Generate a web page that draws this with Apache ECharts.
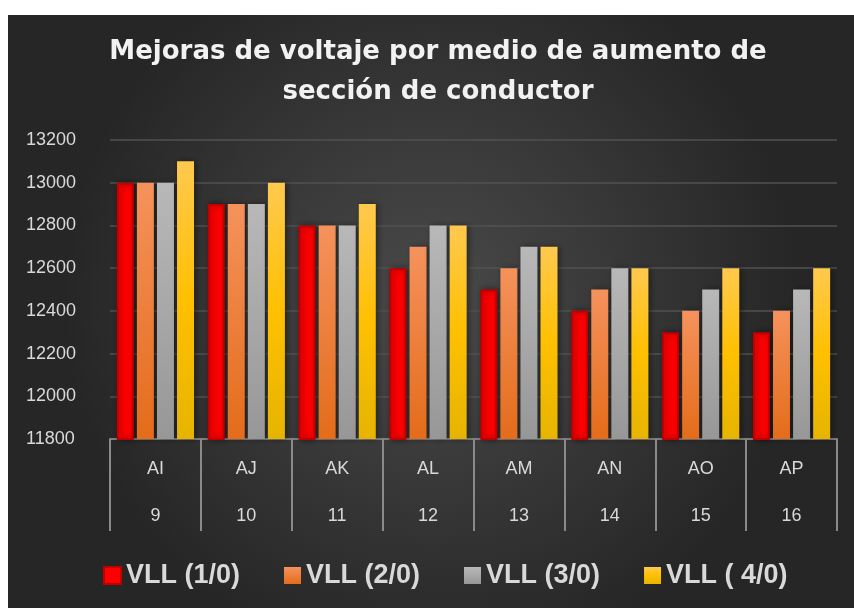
<!DOCTYPE html>
<html><head><meta charset="utf-8">
<script src="https://cdn.jsdelivr.net/npm/echarts@6/dist/echarts.min.js"></script>
<style>html,body{margin:0;padding:0;background:#fff}#c{width:854px;height:608px}</style>
</head><body><div id="c"></div>
<script>
var categories = ['AI','AJ','AK','AL','AM','AN','AO','AP'];
var subLabels = ['9','10','11','12','13','14','15','16'];
var seriesNames = ['VLL (1/0)','VLL (2/0)','VLL (3/0)','VLL ( 4/0)'];
var vll10 = [13000,12900,12800,12600,12500,12400,12300,12300];
var vll20 = [13000,12900,12800,12700,12600,12500,12400,12400];
var vll30 = [13000,12900,12800,12800,12700,12600,12500,12500];
var vll40 = [13100,13000,12900,12800,12700,12600,12600,12600];
var yTicks = [11800,12000,12200,12400,12600,12800,13000,13200];
var titleText = 'Mejoras de voltaje por medio de aumento de\nsección de conductor';

function lg(top, mid, bot){
  var stops = mid ? [{offset:0,color:top},{offset:0.5,color:mid},{offset:1,color:bot}]
                  : [{offset:0,color:top},{offset:1,color:bot}];
  return new echarts.graphic.LinearGradient(0,0,0,1,stops);
}
var styles = [
  {color:'#ff0000', borderColor:'#c00000', borderWidth:2},
  {color:lg('#f5925c',null,'#e46c1a')},
  {color:lg('#b8b8b8',null,'#979797')},
  {color:lg('#ffc94f','#ffc000','#e6b400')}
];
var datas = [vll10,vll20,vll30,vll40];
var chart = echarts.init(document.getElementById('c'));
var series = datas.map(function(d,i){
  var st = Object.assign({shadowBlur:6, shadowColor:'rgba(0,0,0,0.45)', shadowOffsetX:2, shadowOffsetY:0}, styles[i]);
  return {name:seriesNames[i], type:'bar', data:d, barWidth:17, barGap:'18%', itemStyle:st};
});
chart.setOption({
  animation:false,
  backgroundColor:'#ffffff',
  graphic:[{type:'rect', left:8, top:15, z:-10, silent:true,
    shape:{width:846, height:593},
    style:{fill:new echarts.graphic.RadialGradient(0.5,0.48,0.62,[{offset:0,color:'#4a4a4a'},{offset:1,color:'#262626'}])}},
    {type:'text', x:438, y:32, z:10, silent:true,
     style:{text:titleText, fill:'#f2f2f2', font:'bold 26px "DejaVu Sans"', lineHeight:40, align:'center', textAlign:'center', verticalAlign:'top'}}],
  legend:{bottom:14, left:98, itemWidth:17, itemHeight:17, itemGap:44, icon:'rect',
    textStyle:{color:'#d9d9d9', fontFamily:'Liberation Sans', fontWeight:'bold', fontSize:27}},
  grid:{left:110, right:17, top:140, bottom:169},
  xAxis:{type:'category', data:categories,
    axisLine:{lineStyle:{color:'#7f7f7f', width:2}},
    axisTick:{show:true, interval:0, length:92, lineStyle:{color:'#8a8a8a', width:2}},
    axisLabel:{interval:0, margin:7, color:'#d9d9d9', fontFamily:'Liberation Sans', fontSize:18, lineHeight:47,
      formatter:function(v,idx){return v+'\n'+subLabels[idx];}}},
  yAxis:{type:'value', min:yTicks[0], max:yTicks[yTicks.length-1], interval:200,
    axisLine:{show:false}, axisTick:{show:false},
    splitLine:{lineStyle:{color:'#525252', width:1.5}},
    axisLabel:{color:'#d9d9d9', fontFamily:'Liberation Sans', fontSize:18, align:'left', margin:84,
      formatter:function(v){return String(v);}}},
  series:series
});
</script></body></html>
